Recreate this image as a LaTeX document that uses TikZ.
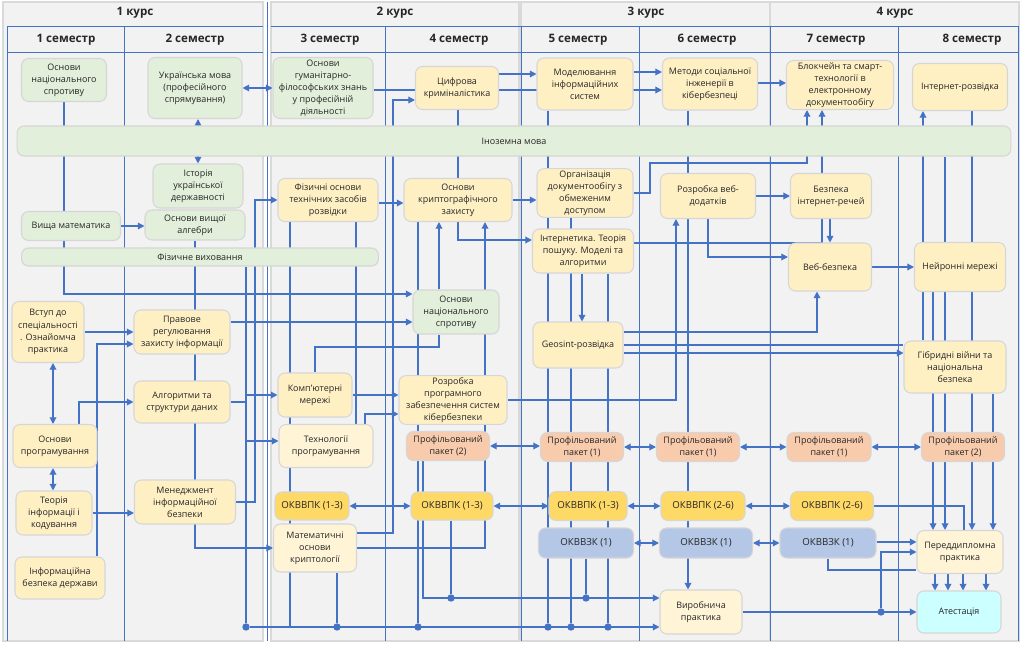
\documentclass[tikz,border=0pt]{standalone}
\usepackage{fontspec}
\setmainfont{Open Sans}
\usetikzlibrary{arrows.meta}
\pgfdeclarelayer{panel}
\pgfdeclarelayer{edges}
\pgfsetlayers{panel,edges,main}
\definecolor{lane}{HTML}{4472C4}
\definecolor{paneltint}{HTML}{F2F2F2}
\definecolor{greenbox}{HTML}{E2EFDA}
\definecolor{yellowbox}{HTML}{FFF0C4}
\definecolor{palebox}{HTML}{FFF4D6}
\definecolor{profbox}{HTML}{F8CBAD}
\definecolor{okpkbox}{HTML}{FFD966}
\definecolor{okzkbox}{HTML}{B4C7E7}
\definecolor{atbox}{HTML}{CCFFFF}
\definecolor{boxline}{HTML}{D6D6D6}
\begin{document}
\begin{tikzpicture}[x=0.02cm, y=-0.02cm,
    every node/.style={font=\fontsize{5.1}{6.9}\selectfont, text=black!85, align=center, inner sep=1pt},
    subj/.style={draw=boxline, line width=0.6pt, rounded corners=4pt, fill=yellowbox},
    sz/.style 2 args={minimum width=#1cm, minimum height=#2cm},
    gbox/.style={subj, fill=greenbox},
    pbox/.style={subj, fill=palebox},
    profb/.style={subj, fill=profbox},
    okpk/.style={subj, fill=okpkbox, font=\fontsize{5.5}{6.9}\selectfont},
    okzk/.style={subj, fill=okzkbox, font=\fontsize{5.5}{6.9}\selectfont},
    atst/.style={subj, fill=atbox},
    head/.style={font=\fontsize{6.6}{8}\selectfont\bfseries},
    ln/.style={draw=lane, line width=0.7pt},
    arr/.style={ln, -{Triangle[length=3.8pt, width=3.8pt]}},
    darr/.style={ln, {Triangle[length=3.8pt, width=3.8pt]}-{Triangle[length=3.8pt, width=3.8pt]}},
    dot/.style={circle, fill=lane, inner sep=0pt, minimum size=4.2pt}]
\useasboundingbox (0,0) rectangle (1024,645);

\node[head] (k1) at (135,13) {1 курс};
\node[head] (k2) at (395,13) {2 курс};
\node[head] (k3) at (646,13) {3 курс};
\node[head] (k4) at (895,13) {4 курс};
\node[head] (s1) at (66,40) {1 семестр};
\node[head] (s2) at (195,40) {2 семестр};
\node[head] (s3) at (330,40) {3 семестр};
\node[head] (s4) at (459,40) {4 семестр};
\node[head] (s5) at (578,40) {5 семестр};
\node[head] (s6) at (707,40) {6 семестр};
\node[head] (s7) at (836,40) {7 семестр};
\node[head] (s8) at (972,40) {8 семестр};

\node[gbox, sz={1.7}{0.86}] (nspr1) at (64,80) {Основи\\національного\\спротиву};
\node[gbox, sz={1.98}{0.58}] (vyshmat) at (71,226) {Вища математика};
\node[subj, sz={1.44}{1.22}] (vstup) at (48,332) {Вступ до\\спеціальності\\. Ознайомча\\практика};
\node[subj, sz={1.68}{0.86}] (osnprog) at (55,446) {Основи\\програмування};
\node[subj, sz={1.52}{0.88}] (teorinf) at (54,513) {Теорія\\інформації і\\кодування};
\node[subj, sz={1.8}{0.84}] (infbezd) at (60,578) {Інформаційна\\безпека держави};

\node[gbox, sz={1.88}{1.22}] (ukrmova) at (195,88) {Українська мова\\(професійного\\спрямування)};
\node[gbox, sz={1.8}{0.88}] (istor) at (198,186) {Історія\\української\\державності};
\node[gbox, sz={2.0}{0.6}] (algebra) at (195,225) {Основи вищої\\алгебри};
\node[subj, sz={1.92}{0.88}] (pravove) at (182,332) {Правове\\регулювання\\захисту інформації};
\node[subj, sz={1.92}{0.84}] (algor) at (182,402) {Алгоритми та\\структури даних};
\node[subj, sz={2.02}{0.88}] (menedzh) at (185,502) {Менеджмент\\інформаційної\\безпеки};

\node[gbox, sz={19.88}{0.6}] (inozem) at (514,141) {Іноземна мова};
\node[gbox, sz={7.14}{0.36}] (fizvykh) at (200,257) {Фізичне виховання};

\node[gbox, sz={2.0}{1.22}] (gumfil) at (323,88) {Основи\\гуманітарно-\\філософських знань\\у професійній\\діяльності};
\node[subj, sz={2.0}{0.86}] (fizosn) at (328,200) {Фізичні основи\\технічних засобів\\розвідки};
\node[subj, sz={1.48}{0.88}] (kompmer) at (315,395) {Комп'ютерні\\мережі};
\node[pbox, sz={1.88}{0.86}] (tehprog) at (326,446) {Технології\\програмування};
\node[okpk, sz={1.48}{0.56}] (okpk3) at (312,506) {ОКВВПК (1-3)};
\node[pbox, sz={1.66}{0.96}] (matkrypt) at (315,548) {Математичні\\основи\\криптології};

\node[subj, sz={1.66}{0.86}] (tsyfr) at (457,88) {Цифрова\\криміналістика};
\node[subj, sz={2.16}{0.86}] (kryptzah) at (458,200) {Основи\\криптографічного\\захисту};
\node[gbox, sz={1.72}{0.88}] (nspr4) at (456,312) {Основи\\національного\\спротиву};
\node[subj, sz={2.16}{0.94}] (rozrpz) at (453,400) {Розробка\\програмного\\забезпечення систем\\кібербезпеки};
\node[profb, sz={1.66}{0.58}] (prof4) at (448,446) {Профільований\\пакет (2)};
\node[okpk, sz={1.64}{0.56}] (okpk4) at (452,506) {ОКВВПК (1-3)};

\node[subj, sz={1.92}{1.04}] (model) at (585,84) {Моделювання\\інформаційних\\систем};
\node[subj, sz={1.92}{0.96}] (orgdoc) at (585,193) {Організація\\документообігу з\\обмеженим\\доступом};
\node[subj, sz={2.02}{0.88}] (internet) at (583,251) {Інтернетика. Теорія\\пошуку. Моделі та\\алгоритми};
\node[subj, sz={1.8}{0.92}] (geosint) at (578,345) {Geosint-розвідка};
\node[profb, sz={1.66}{0.58}] (prof5) at (582,447) {Профільований\\пакет (1)};
\node[okpk, sz={1.56}{0.58}] (okpk5) at (588,506) {ОКВВПК (1-3)};
\node[okzk, sz={1.9}{0.6}] (okzk5) at (586,543) {ОКВВЗК (1)};

\node[subj, sz={1.9}{1.04}] (metody) at (710,84) {Методи соціальної\\інженерії в\\кібербезпеці};
\node[subj, sz={1.9}{0.9}] (rozrveb) at (708,196) {Розробка веб-\\додатків};
\node[profb, sz={1.66}{0.58}] (prof6) at (698,447) {Профільований\\пакет (1)};
\node[okpk, sz={1.68}{0.58}] (okpk6) at (703,506) {ОКВВПК (2-6)};
\node[okzk, sz={1.86}{0.6}] (okzk6) at (706,543) {ОКВВЗК (1)};
\node[pbox, sz={1.64}{0.88}] (vyrob) at (701,612) {Виробнича\\практика};

\node[subj, sz={2.14}{0.98}] (blokch) at (840,85) {Блокчейн та смарт-\\технології в\\електронному\\документообігу};
\node[subj, sz={1.62}{0.9}] (bezir) at (831,196) {Безпека\\інтернет-речей};
\node[subj, sz={1.66}{0.96}] (vebbez) at (830,267) {Веб-безпека};
\node[profb, sz={1.68}{0.58}] (prof7) at (829,447) {Профільований\\пакет (1)};
\node[okpk, sz={1.66}{0.58}] (okpk7) at (832,506) {ОКВВПК (2-6)};
\node[okzk, sz={1.92}{0.6}] (okzk7) at (828,543) {ОКВВЗК (1)};

\node[subj, sz={1.9}{0.94}] (intrrozv) at (960,87) {Інтернет-розвідка};
\node[subj, sz={1.82}{0.98}] (neiron) at (960,267) {Нейронні мережі};
\node[subj, sz={2.04}{1.04}] (gibr) at (955,367) {Гібридні війни та\\національна\\безпека};
\node[profb, sz={1.66}{0.58}] (prof8) at (963,447) {Профільований\\пакет (2)};
\node[pbox, sz={1.72}{0.86}] (peredd) at (960,552) {Переддипломна\\практика};
\node[atst, sz={1.68}{0.84}] (atest) at (959,612) {Атестація};

\node[dot] (b0) at (246,627) {};
\node[dot] (b1) at (337,627) {};
\node[dot] (b2) at (418,627) {};
\node[dot] (b3) at (548,627) {};
\node[dot] (b4) at (571,627) {};
\node[dot] (b5) at (608,627) {};
\node[dot] (c1) at (451,598) {};
\node[dot] (c2) at (586,598) {};
\node[dot] (d1) at (881,612) {};

\begin{pgfonlayer}{panel}
\fill[white] (0,0) rectangle (1024,645);
\foreach \a/\b in {3/263,271/519,521/770,770/1019}
  \filldraw[fill=paneltint, draw=black!15, line width=0.8pt] (\a,2) rectangle (\b,641);
\foreach \a/\b in {7/263,271/521,521/770,770/1018}
  \draw[lane, line width=0.5pt] (\a,26) -- (\b,26) (\a,52) -- (\b,52);
\foreach \xx in {7,124,385,521,639,770,898,1018}
  \draw[lane, line width=0.5pt] (\xx,26) -- (\xx,641);
\draw[lane, line width=0.5pt] (267,2) -- (267,641);
\end{pgfonlayer}

\begin{pgfonlayer}{edges}
\draw[darr] (ukrmova.south -| istor.north) -- (istor.north);
\draw[darr] (ukrmova.east) -- (gumfil.west);
\draw[arr] (gumfil.east |- 0,90) -- (metody.west |- 0,90);
\draw[arr] (tsyfr.east |- 0,74) -- (model.west |- 0,74);
\draw[arr] (model.east |- 0,72) -- (metody.west |- 0,72);
\draw[arr] (metody.east |- 0,83) -- (blokch.west |- 0,83);
\draw[arr] (vyshmat.east) -- (algebra.west |- vyshmat.east);
\draw[arr] (nspr1.south) |- (nspr4.west |- 0,294);
\draw[arr] (vstup.east) -- (pravove.west);
\draw[arr] (infbezd.north -| 97,0) |- (pravove.west |- 0,344);
\draw[arr] (pravove.east |- 0,322) -- (nspr4.west |- 0,322);
\draw[arr] (osnprog.north -| 79,0) |- (algor.west);
\draw[darr] (vstup.south -| 53,0) -- (osnprog.north -| 53,0);
\draw[darr] (osnprog.south -| 53,0) -- (teorinf.north -| 53,0);
\draw[arr] (teorinf.east) -- (menedzh.west |- teorinf.east);
\draw[arr] (algebra.south) |- (matkrypt.west);
\draw[arr] (algor.east) -| (246,395) -- (kompmer.west |- 0,395);
\draw[arr] (algor.east) -| (246,441) -- (tehprog.west |- 0,441);
\draw[ln] (fizvykh.south -| b0) -- (b0);
\draw[arr] (menedzh.east) -| (255,200) -- (fizosn.west);
\draw[arr] (b0) -- (vyrob.west |- b0);

\draw[ln] (fizosn.south -| 290,0) -- (290,0 |- b0);
\draw[ln] (fizosn.south -| 356,0) -- (tehprog.north -| 356,0);
\draw[arr] (fizosn.east |- 0,203) -- (kryptzah.west |- 0,203);
\draw[arr] (kompmer.east) -- (rozrpz.west |- kompmer.east);
\draw[arr] (tehprog.north -| 365,0) |- (rozrpz.west |- 0,414);
\draw[ln] (nspr4.south -| 439,0) |- (kompmer.north |- 0,347) -- (kompmer.north);
\draw[arr] (nspr4.north -| 439,0) -- (kryptzah.south -| 439,0);
\draw[arr] (matkrypt.east) -| (kryptzah.south -| 485,0);
\draw[arr] (matkrypt.east |- 0,533) -| (393,100) -- (tsyfr.west |- 0,100);
\draw[ln] (tsyfr.south -| 458,0) -- (kryptzah.north -| 458,0);
\draw[arr] (kryptzah.south) |- (internet.west |- 0,240);
\draw[arr] (kryptzah.east) -- (orgdoc.west |- kryptzah.east);
\draw[ln] (kryptzah.south -| b2) -- (b2);
\draw[ln] (matkrypt.south -| b1) -- (b1);
\draw[arr] (prof4.south -| 423,0) |- (vyrob.west |- c1);
\draw[ln] (okpk4.south -| c1) -- (c1);
\draw[ln] (okzk5.south -| c2) -- (c2);

\draw[arr] (rozrpz.east) -| (rozrveb.south -| 676,0);
\draw[ln] (model.south -| b3) -- (b3);
\draw[ln] (orgdoc.south -| b4) -- (b4);
\draw[ln] (internet.south -| b5) -- (b5);
\draw[arr] (internet.south -| 582,0) -- (geosint.north -| 582,0);
\draw[arr] (metody.south -| 688,0) -- (vyrob.north -| 688,0);
\draw[arr] (orgdoc.east) -| (650,163) -| (blokch.south -| 807,0);
\draw[arr] (internet.east |- 0,243) -| (blokch.south -| 822,0);
\draw[arr] (rozrveb.east) -- (bezir.west);
\draw[arr] (bezir.south -| vebbez.north) -- (vebbez.north);
\draw[arr] (rozrveb.south) |- (vebbez.west |- 0,257);
\draw[arr] (geosint.east |- 0,332) -| (vebbez.south -| 817,0);
\draw[ln] (geosint.east) -- (gibr.west |- geosint.east);
\draw[arr] (geosint.east |- 0,353) -- (gibr.west |- 0,353);
\draw[arr] (vebbez.east) -- (neiron.west);

\draw[arr] (gibr.north -| 923,0) -- (intrrozv.south -| 923,0);
\draw[arr] (inozem.south -| 945,0) -- (peredd.north -| 945,0);
\draw[arr] (intrrozv.south -| 972,0) -- (peredd.north -| 972,0);
\draw[arr] (neiron.south -| 933,0) -- (peredd.north -| 933,0);
\draw[arr] (gibr.south -| 993,0) -- (peredd.north -| 993,0);
\draw[ln] (okpk7.east) -| (peredd.north -| 964,0);
\draw[arr] (okzk7.east |- 0,542) -- (peredd.west |- 0,542);
\draw[ln] (okzk7.south) |- (peredd.west |- 0,570);
\foreach \xx in {935,948,963,986}
  \draw[arr] (peredd.south -| \xx,0) -- (atest.north -| \xx,0);
\draw[arr] (vyrob.east |- d1) -- (atest.west |- d1);
\draw[arr] (d1) |- (peredd.west |- 0,552);

\foreach \a/\b in {prof4/prof5,prof5/prof6,prof6/prof7,prof7/prof8,okpk3/okpk4,okpk4/okpk5,okpk5/okpk6,okpk6/okpk7,okzk5/okzk6,okzk6/okzk7}
  \draw[darr] (\a.east) -- (\b.west |- \a.east);
\end{pgfonlayer}
\end{tikzpicture}
\end{document}
